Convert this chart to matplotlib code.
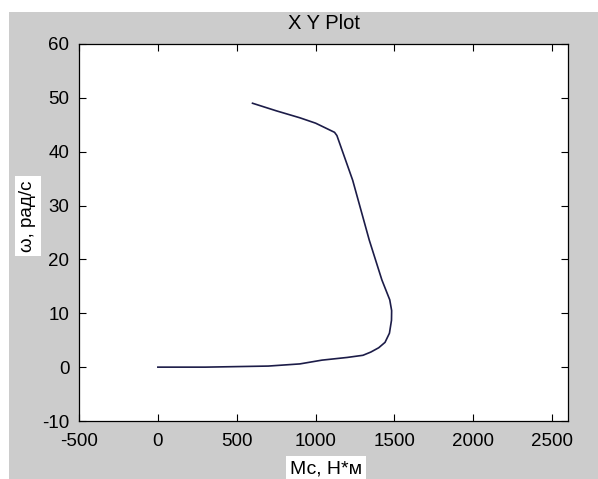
import matplotlib
matplotlib.use('Agg')
import matplotlib.pyplot as plt
from matplotlib.patches import Rectangle

plt.rcParams['font.family'] = ['Liberation Sans', 'DejaVu Sans']
plt.rcParams['axes.unicode_minus'] = False

# torque Mc (N*m) vs angular speed w (rad/s)
mc = [0, 300, 700, 900, 1040, 1200, 1300, 1350, 1400, 1440, 1468, 1481, 1482,
      1470, 1420, 1340, 1235, 1135, 1120, 1000, 900, 750, 600]
w = [0, 0, 0.2, 0.6, 1.3, 1.8, 2.2, 2.8, 3.6, 4.6, 6.3, 8.7, 10.5,
     12.5, 16.2, 23.6, 34.7, 43.0, 43.6, 45.3, 46.3, 47.6, 49.0]

x_ticks = [-500, 0, 500, 1000, 1500, 2000, 2500]
y_ticks = [-10, 0, 10, 20, 30, 40, 50, 60]

W, H = 598, 479
fig = plt.figure(figsize=(W / 100, H / 100), dpi=100, facecolor='white')

# grey figure panel (white strip at top/left like the screenshot)
bg = Rectangle((9 / W, 0), 1 - 9 / W, (H - 12) / H, transform=fig.transFigure,
               facecolor='#cccccc', edgecolor='none', zorder=-10)
fig.add_artist(bg)

ax = fig.add_axes([79 / W, 1 - 421 / H, (568 - 79) / W, (421 - 44) / H])
ax.set_zorder(5)
ax.set_facecolor('white')
ax.plot(mc, w, color='#1c1c48', linewidth=1.2)

ax.set_xlim(-500, 2600)
ax.set_ylim(-10, 60)
ax.set_xticks(x_ticks)
ax.set_yticks(y_ticks)
ax.tick_params(direction='in', length=5, width=0.8, top=True, right=True,
               labelsize=13.5, pad=7)
ax.tick_params(axis='x', pad=9)
for s in ax.spines.values():
    s.set_linewidth(0.9)
    s.set_color('black')

ax.set_title('X Y Plot', fontsize=14.5, pad=11)

# axis labels drawn with white boxes, as in the screenshot
fig.text(28 / W, 1 - 216 / H, 'ω, рад/с', rotation=90, fontsize=13.5,
         ha='center', va='center', zorder=6,
         bbox=dict(facecolor='white', edgecolor='none', pad=3))
fig.text(326 / W, 1 - 469 / H, 'Мс, Н*м', fontsize=14,
         ha='center', va='center', zorder=6,
         bbox=dict(facecolor='white', edgecolor='none', pad=3))

fig.savefig('out.png', dpi=100, facecolor=fig.get_facecolor())
